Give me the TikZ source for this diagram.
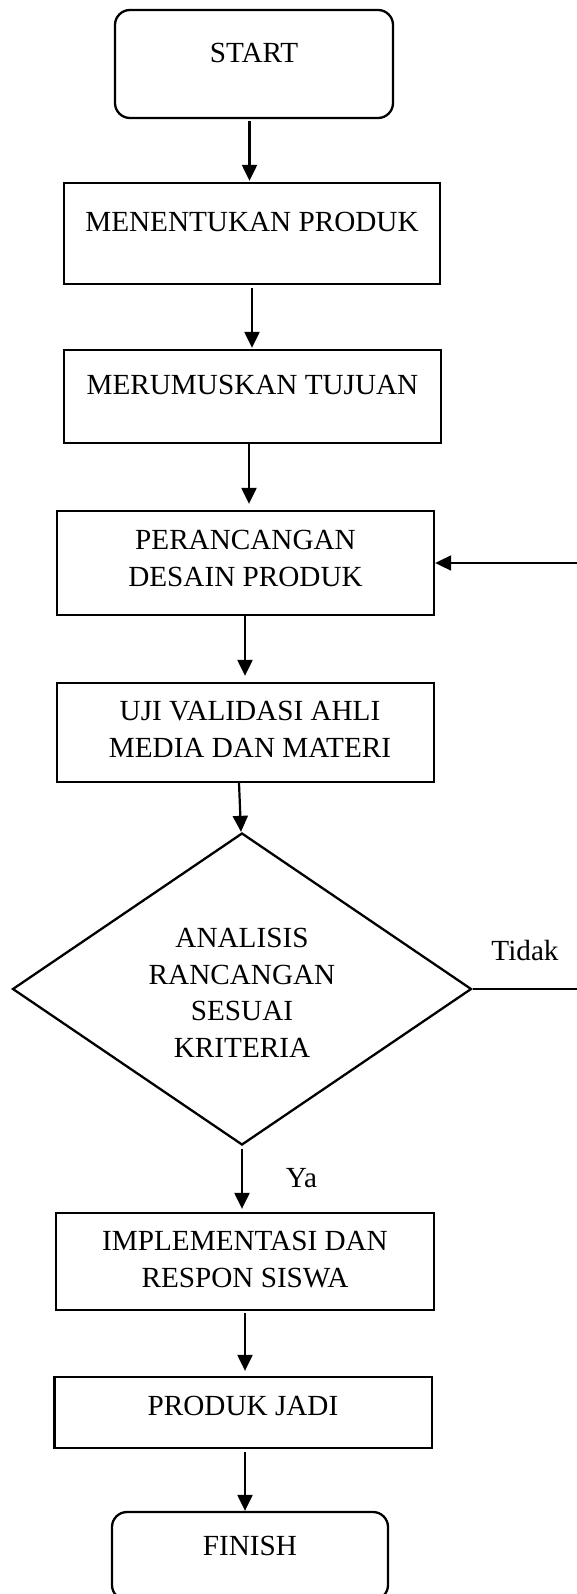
\documentclass[tikz,border=0pt]{standalone}
\usepackage{fontspec}
\setmainfont{Liberation Serif}
\usetikzlibrary{arrows.meta,shapes.geometric}

\tikzset{
  procbox/.style={draw, line width=2.3pt, rectangle, inner sep=0pt},
  termbox/.style={procbox, rounded corners=15pt},
  decbox/.style={draw, line width=2.3pt, diamond, inner sep=0pt},
  txt/.style={font=\fontsize{29.2pt}{36.5pt}\selectfont, inner sep=0pt, align=center, anchor=base},
  arr/.style={line width=2.2pt, -{Triangle[length=16pt,width=15pt]}},
}

\begin{document}
\begin{tikzpicture}[x=1pt,y=-1pt]
  \useasboundingbox (0,0) rectangle (577,1594);
  \clip (0,0) rectangle (577,1594);

  % process boxes
  \node[termbox, minimum width=278pt, minimum height=108pt] (start) at (254,64) {};
  \node[procbox, minimum width=376pt, minimum height=101pt] (b1) at (252,233.5) {};
  \node[procbox, minimum width=377pt, minimum height=93pt]  (b2) at (252.5,396.5) {};
  \node[procbox, minimum width=377pt, minimum height=104pt] (b3) at (245.5,563) {};
  \node[procbox, minimum width=377pt, minimum height=99pt]  (b4) at (245.5,732.5) {};
  \node[decbox, minimum width=459pt, minimum height=312pt]  (dec) at (242,989) {};
  \node[procbox, minimum width=378pt, minimum height=97pt]  (b5) at (245,1261.5) {};
  \node[procbox, minimum width=377.5pt, minimum height=71pt] (b6) at (243.25,1412.5) {};
  \node[termbox, minimum width=276pt, minimum height=88pt] (finish) at (250,1556) {};

  % texts (multi-line nodes sit on the baseline of their last line)
  \node[txt] (tstart) at (254,63) {START};
  \node[txt] (t1) at (252,232) {MENENTUKAN PRODUK};
  \node[txt] (t2) at (252.5,394) {MERUMUSKAN TUJUAN};
  \node[txt] (t3) at (245.5,586) {PERANCANGAN\\DESAIN PRODUK};
  \node[txt] (t4) at (250,757) {UJI VALIDASI AHLI\\MEDIA DAN MATERI};
  \node[txt] (tdec) at (242,1057) {ANALISIS\\RANCANGAN\\SESUAI\\KRITERIA};
  \node[txt] (t5) at (245,1287) {IMPLEMENTASI DAN\\RESPON SISWA};
  \node[txt] (t6) at (243,1415) {PRODUK JADI};
  \node[txt] (tfinish) at (250,1555) {FINISH};
  \node[txt] (tno) at (525,960) {Tidak};
  \node[txt] (tyes) at (301.5,1187) {Ya};

  % main flow
  \draw[arr, shorten <=2pt, shorten >=1pt] ([xshift=-4.5pt]start.south) -- ([xshift=-2.5pt]b1.north);
  \draw[arr, shorten <=3pt, shorten >=1pt] (b1.south) -- ([xshift=-0.5pt]b2.north);
  \draw[arr, shorten <=0pt, shorten >=6pt] ([xshift=-3.5pt]b2.south) -- ([xshift=3.5pt]b3.north);
  \draw[arr, shorten <=0pt, shorten >=6pt] ([xshift=-0.5pt]b3.south) -- ([xshift=-0.5pt]b4.north);
  \draw[arr, shorten <=0pt, shorten >=0pt] ([xshift=-6.5pt]b4.south) -- ([xshift=-1pt]dec.north);
  \draw[arr, shorten <=3pt, shorten >=3pt] (dec.south) -- ([xshift=-3pt]b5.north);
  \draw[arr, shorten <=2pt, shorten >=5pt] (b5.south) -- ([xshift=1.75pt]b6.north);
  \draw[arr, shorten <=3pt, shorten >=0pt] ([xshift=1.75pt]b6.south) -- ([xshift=-5pt]finish.north);

  % rejection branch back to the design step
  \coordinate (noend) at (577,989);
  \coordinate (backin) at (577,563);
  \draw[line width=1.4pt] (dec.east) -- (noend);
  \draw[line width=1.8pt, -{Triangle[length=16pt,width=15pt]}] (backin) -- (b3.east);
\end{tikzpicture}
\end{document}
